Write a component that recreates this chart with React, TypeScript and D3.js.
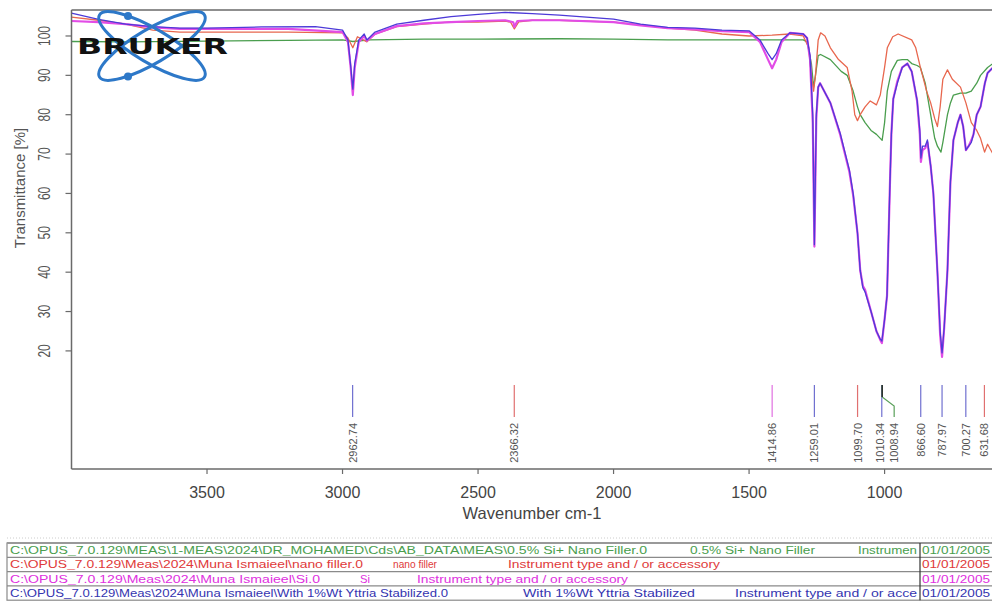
import React, { useEffect, useRef } from "react";
import * as d3 from "d3";

// axis setup
const wnDomain = [4000, 600];
const tDomain = [-10, 106.6];
const xTicks = [3500, 3000, 2500, 2000, 1500, 1000];
const yTicks = [20, 30, 40, 50, 60, 70, 80, 90, 100];

// spectra: [wavenumber, transmittance %]
const siNanoFiller: [number, number][] = [
  [4000, 98.6], [3800, 98.5], [3500, 98.7], [3200, 98.9], [3000, 99], [2962, 98.6],
  [2900, 99], [2700, 99.2], [2500, 99.2], [2200, 99.3], [2000, 99.2], [1800, 99],
  [1600, 99], [1450, 99], [1300, 99], [1286, 98.5], [1270, 93], [1262, 87],
  [1255, 90], [1245, 95], [1236, 95.3], [1200, 94], [1160, 91], [1138, 90],
  [1116, 86], [1100, 82], [1090, 80], [1072, 78], [1050, 76], [1030, 75],
  [1016, 74], [1009, 73.5], [1000, 78], [990, 86], [975, 91], [953, 93.8],
  [935, 94], [916, 94], [900, 93], [880, 92.5], [868, 92], [850, 88], [830, 80],
  [815, 74], [805, 72], [792, 70.5], [785, 73], [768, 80], [757, 83], [746, 85],
  [720, 85.5], [700, 85.5], [680, 86], [660, 88], [646, 90], [620, 92], [600, 93],
];

const nanoFiller: [number, number][] = [
  [4000, 104.8], [3900, 104], [3800, 103], [3700, 101.5], [3600, 101], [3400, 101],
  [3200, 101], [3000, 100.8], [2980, 99.5], [2962, 97], [2945, 99.8], [2910, 98.5],
  [2880, 100.5], [2800, 102.4], [2700, 103], [2600, 103.6], [2500, 103.5], [2400, 103.8],
  [2380, 103.5], [2366, 101.8], [2350, 103.6], [2300, 104], [2200, 104], [2000, 103.5],
  [1900, 102.8], [1800, 102], [1700, 101.5], [1600, 100.5], [1500, 100], [1415, 100.2],
  [1350, 100.5], [1300, 100], [1280, 97], [1270, 90], [1262, 86], [1255, 90],
  [1245, 99], [1236, 100.8], [1220, 100], [1200, 97], [1170, 94], [1138, 92],
  [1120, 86], [1110, 80], [1100, 78.5], [1090, 80], [1072, 82], [1053, 83.5],
  [1030, 82.5], [1016, 85], [1000, 92], [990, 97], [970, 99.8], [950, 100.5],
  [900, 99], [885, 97], [868, 92], [860, 90], [845, 86], [830, 83], [815, 79],
  [805, 77], [795, 82], [785, 89], [768, 91.4], [750, 89], [720, 87], [700, 83],
  [680, 78], [660, 76], [646, 74], [631, 70.5], [620, 72.5], [600, 70],
];

const si: [number, number][] = [
  [4000, 103.8], [3900, 103.5], [3800, 103], [3700, 102.2], [3600, 101.8], [3400, 101.8],
  [3200, 101.8], [3000, 101], [2980, 98.5], [2970, 92], [2962, 85], [2955, 92],
  [2940, 98.5], [2920, 100], [2910, 98.8], [2880, 100.5], [2800, 102.5], [2700, 103.2],
  [2600, 103.5], [2500, 103.8], [2400, 104], [2370, 103.5], [2366, 102.3], [2355, 103.8],
  [2300, 104], [2200, 104], [2000, 103.5], [1900, 102.7], [1800, 102], [1700, 101.7],
  [1600, 101.2], [1500, 101], [1460, 98.5], [1430, 94], [1415, 91.8], [1400, 94],
  [1380, 98.5], [1349, 100.8], [1300, 100.5], [1286, 99.5], [1275, 94], [1265, 78],
  [1259, 46.5], [1252, 79], [1245, 87], [1238, 88], [1200, 83], [1164, 75],
  [1130, 65.5], [1116, 59.5], [1100, 50], [1090, 40.5], [1080, 36.5], [1072, 35.5],
  [1050, 30], [1030, 25], [1016, 22.8], [1010, 22], [1000, 28], [991, 34],
  [980, 63], [975, 75], [968, 84], [953, 88.5], [935, 92], [916, 93], [900, 91],
  [880, 83.5], [870, 75], [866, 68], [860, 71], [850, 71.5], [842, 73], [830, 67],
  [820, 60], [805, 40], [795, 24], [788, 18.5], [780, 26], [768, 40.5], [757, 63],
  [746, 73.5], [730, 78], [720, 80], [710, 77], [700, 71], [690, 72], [680, 73.5],
  [672, 75], [660, 80], [646, 82], [630, 88], [620, 90.6], [600, 92],
];

const yttria: [number, number][] = [
  [4000, 105.8], [3900, 104.2], [3800, 103], [3700, 102.4], [3600, 102], [3500, 102],
  [3300, 102.3], [3100, 102.4], [3000, 101.5], [2980, 99], [2970, 92.5], [2962, 86.5],
  [2955, 93], [2940, 99], [2920, 100.5], [2910, 99], [2880, 101], [2800, 103],
  [2700, 104], [2600, 104.9], [2500, 105.5], [2400, 106], [2300, 105.7], [2200, 105.3],
  [2100, 104.8], [2000, 104.3], [1900, 103], [1800, 102.2], [1700, 102], [1600, 101.5],
  [1500, 101.3], [1460, 99], [1430, 95.5], [1415, 94], [1400, 95.5], [1380, 99],
  [1349, 100.8], [1300, 100.5], [1286, 99.5], [1275, 95], [1265, 80], [1259, 47],
  [1252, 80], [1245, 87], [1238, 88], [1200, 83], [1164, 75.3], [1130, 66],
  [1116, 60], [1100, 50], [1090, 40.5], [1080, 36], [1072, 35], [1050, 30],
  [1030, 25], [1016, 23], [1010, 22.5], [1000, 28], [991, 34], [980, 63], [975, 75],
  [968, 84], [953, 88], [935, 92], [916, 93], [900, 91], [880, 83.7], [870, 76],
  [866, 69], [860, 72], [850, 72], [842, 73.6], [830, 67], [820, 60], [805, 40],
  [795, 25], [788, 19.5], [780, 26], [768, 40.5], [757, 63], [746, 73.6], [730, 78],
  [720, 80], [710, 77], [700, 71], [690, 72], [680, 73], [672, 75], [660, 80],
  [646, 82], [630, 88], [620, 90.6], [600, 92],
];

// peak picks
const peakWn = [2962.74, 2366.32, 1414.86, 1259.01, 1099.7, 1010.34, 1008.94, 866.6, 787.97, 700.27, 631.68];
const peakOwner = ["yttria", "nano", "si", "yttria", "nano", "yttria", "green", "yttria", "yttria", "yttria", "nano"];

// legend rows (file path, sample name, instrument as far as it is visible)
const legendPaths = [
  "C:\\OPUS_7.0.129\\MEAS\\1-MEAS\\2024\\DR_MOHAMED\\Cds\\AB_DATA\\MEAS\\0.5% Si+ Nano Filler.0",
  "C:\\OPUS_7.0.129\\Meas\\2024\\Muna Ismaieel\\nano filler.0",
  "C:\\OPUS_7.0.129\\Meas\\2024\\Muna Ismaieel\\Si.0",
  "C:\\OPUS_7.0.129\\Meas\\2024\\Muna Ismaieel\\With 1%Wt Yttria Stabilized.0",
];
const legendNames = ["0.5% Si+ Nano Filler", "nano filler", "Si", "With 1%Wt Yttria Stabilized"];
const legendInstr = [
  "Instrumen",
  "Instrument type and / or accessory",
  "Instrument type and / or accessory",
  "Instrument type and / or acce",
];
const legendDates = ["01/01/2005", "01/01/2005", "01/01/2005", "01/01/2005"];

const FONT = "'Liberation Sans', Arial, sans-serif";

const App = () => {
  const svgRef = useRef<SVGSVGElement>(null);

  useEffect(() => {
    const svg = d3.select(svgRef.current);
    svg.selectAll("*").remove();

    const left = 71.5;
    const right = 993;
    const top = 10;
    const bottom = 469;

    const x = d3.scaleLinear().domain(wnDomain).range([left, right]);
    const y = d3.scaleLinear().domain(tDomain).range([bottom, top]);

    const colors = { green: "#4a9e4e", nano: "#e8674e", si: "#e24ce6", yttria: "#4d3ad8" };
    const markColors = { green: "#5aa05a", nano: "#e07070", si: "#e070e0", yttria: "#7070d0" };

    svg.append("rect").attr("width", 992).attr("height", 606).attr("fill", "#fff");

    const clip = svg.append("clipPath").attr("id", "plotclip");
    clip.append("rect").attr("x", left).attr("y", top).attr("width", right - left).attr("height", bottom - top);

    // spectra
    const line = d3
      .line<[number, number]>()
      .x((d) => x(d[0]))
      .y((d) => y(d[1]));

    const series = [
      { data: siNanoFiller, color: colors.green, w: 1.3 },
      { data: nanoFiller, color: colors.nano, w: 1.3 },
      { data: si, color: colors.si, w: 2.2 },
      { data: yttria, color: colors.yttria, w: 1.3 },
    ];

    const g = svg.append("g").attr("clip-path", "url(#plotclip)");
    series.forEach((s) => {
      g.append("path")
        .datum(s.data)
        .attr("d", line)
        .attr("fill", "none")
        .attr("stroke", s.color)
        .attr("stroke-width", s.w)
        .attr("stroke-linejoin", "round");
    });

    // frame
    const axisColor = "#6a6a6a";
    svg.append("line").attr("x1", left).attr("x2", right).attr("y1", top).attr("y2", top)
      .attr("stroke", axisColor).attr("stroke-width", 1.5);
    svg.append("line").attr("x1", left).attr("x2", left).attr("y1", top).attr("y2", bottom)
      .attr("stroke", axisColor).attr("stroke-width", 1.5);
    svg.append("line").attr("x1", left).attr("x2", right).attr("y1", bottom).attr("y2", bottom)
      .attr("stroke", axisColor).attr("stroke-width", 1.5);

    // y ticks
    yTicks.forEach((t) => {
      svg.append("line").attr("x1", left - 6).attr("x2", left).attr("y1", y(t)).attr("y2", y(t))
        .attr("stroke", axisColor).attr("stroke-width", 1.2);
      svg.append("text")
        .attr("transform", `translate(44, ${y(t)}) rotate(-90) scale(1, 1.35)`)
        .attr("text-anchor", "middle")
        .attr("dominant-baseline", "central")
        .attr("font-family", FONT)
        .attr("font-size", 12)
        .attr("fill", "#555")
        .text(t);
    });

    svg.append("text")
      .attr("transform", `translate(19, 188) rotate(-90)`)
      .attr("text-anchor", "middle")
      .attr("dominant-baseline", "central")
      .attr("font-family", FONT)
      .attr("font-size", 15)
      .attr("fill", "#555")
      .text("Transmittance [%]");

    // x ticks
    xTicks.forEach((t) => {
      svg.append("line").attr("x1", x(t)).attr("x2", x(t)).attr("y1", bottom).attr("y2", bottom + 5)
        .attr("stroke", axisColor).attr("stroke-width", 1.2);
      svg.append("text")
        .attr("x", x(t))
        .attr("y", 498)
        .attr("text-anchor", "middle")
        .attr("font-family", FONT)
        .attr("font-size", 16)
        .attr("fill", "#444")
        .text(t);
    });

    svg.append("text")
      .attr("x", 532)
      .attr("y", 519)
      .attr("text-anchor", "middle")
      .attr("font-family", FONT)
      .attr("font-size", 16.5)
      .attr("fill", "#444")
      .text("Wavenumber cm-1");

    // peak markers
    const mTop = bottom - 84;
    const mBot = bottom - 52;
    const labelTop = bottom - 46;
    peakWn.forEach((p, i) => {
      const owner = peakOwner[i];
      const px = x(p);
      let lx = px;
      if (owner === "green") {
        lx = px + 12;
        svg.append("path")
          .attr("d", `M${px},${mTop}V${mTop + 12}L${lx},${mTop + 21}V${mBot}`)
          .attr("fill", "none")
          .attr("stroke", markColors.green)
          .attr("stroke-width", 1.2);
        svg.append("line").attr("x1", px).attr("x2", px).attr("y1", mTop).attr("y2", mTop + 12)
          .attr("stroke", "#222").attr("stroke-width", 1.4);
      } else {
        if (p === 1010.34) lx = px - 2;
        svg.append("line").attr("x1", px).attr("x2", px).attr("y1", mTop).attr("y2", mBot)
          .attr("stroke", markColors[owner]).attr("stroke-width", 1.2);
      }
      svg.append("text")
        .attr("transform", `translate(${lx}, ${labelTop}) rotate(-90)`)
        .attr("text-anchor", "end")
        .attr("dominant-baseline", "central")
        .attr("font-family", FONT)
        .attr("font-size", 11)
        .attr("fill", "#555")
        .text(p.toFixed(2));
    });

    // bruker logo
    const logo = svg.append("g");
    const logoBlue = "#2d78c8";
    logo.append("ellipse").attr("cx", 152).attr("cy", 46).attr("rx", 61).attr("ry", 17)
      .attr("transform", "rotate(30.6 152 46)").attr("fill", "none").attr("stroke", logoBlue).attr("stroke-width", 3);
    logo.append("ellipse").attr("cx", 152).attr("cy", 46).attr("rx", 61).attr("ry", 17)
      .attr("transform", "rotate(-30.6 152 46)").attr("fill", "none").attr("stroke", logoBlue).attr("stroke-width", 3);
    logo.append("circle").attr("cx", 128).attr("cy", 16).attr("r", 4).attr("fill", logoBlue);
    logo.append("circle").attr("cx", 128).attr("cy", 76.5).attr("r", 4).attr("fill", logoBlue);
    logo.append("text")
      .attr("x", 77)
      .attr("y", 54)
      .attr("textLength", 151)
      .attr("lengthAdjust", "spacingAndGlyphs")
      .attr("font-family", "'DejaVu Sans', Arial, sans-serif")
      .attr("font-weight", 900)
      .attr("font-size", 21)
      .attr("fill", "#111")
      .text("BRUKER");

    // legend table
    const tLeft = 7;
    const tTop = 543;
    const rowH = 14.3;
    const dateX = 920;
    const legendColors = [colors.green, "#e03a3a", "#e030e0", "#3535b0"];
    const pathEnds = [647, 363, 320, 448];
    const nameSpans = [[690, 815], [393, 437], [360, 370], [523, 695]];
    const instrSpans = [[858, 917], [508, 720], [417, 628], [735, 917]];

    svg.append("line").attr("x1", tLeft).attr("x2", 992).attr("y1", tTop - 5).attr("y2", tTop - 5)
      .attr("stroke", "#ccc").attr("stroke-dasharray", "1,2");

    svg.append("rect").attr("x", tLeft).attr("y", tTop).attr("width", 992 - tLeft + 2).attr("height", rowH * 4)
      .attr("fill", "#fff").attr("stroke", "#8a8a8a").attr("stroke-width", 1.2);
    svg.append("line").attr("x1", tLeft).attr("x2", 992).attr("y1", tTop).attr("y2", tTop)
      .attr("stroke", "#999").attr("stroke-width", 2.2);
    for (let r = 1; r < 4; r++) {
      svg.append("line").attr("x1", tLeft).attr("x2", 992).attr("y1", tTop + r * rowH).attr("y2", tTop + r * rowH)
        .attr("stroke", "#8a8a8a").attr("stroke-width", 1.2);
    }
    svg.append("line").attr("x1", dateX).attr("x2", dateX).attr("y1", tTop).attr("y2", tTop + rowH * 4)
      .attr("stroke", "#333").attr("stroke-width", 1.2);

    legendPaths.forEach((p, i) => {
      const by = tTop + i * rowH + rowH / 2 + 3.8;
      const c = legendColors[i];
      const base = (el) => el.attr("y", by).attr("font-family", FONT).attr("font-size", 11).attr("fill", c)
        .attr("lengthAdjust", "spacingAndGlyphs");
      base(svg.append("text")).attr("x", 10).attr("textLength", pathEnds[i] - 10).text(p);
      base(svg.append("text")).attr("x", nameSpans[i][0]).attr("textLength", nameSpans[i][1] - nameSpans[i][0]).text(legendNames[i]);
      base(svg.append("text")).attr("x", instrSpans[i][0]).attr("textLength", instrSpans[i][1] - instrSpans[i][0]).text(legendInstr[i]);
      base(svg.append("text")).attr("x", 922).attr("textLength", 68).text(legendDates[i]);
    });
  }, []);

  return (
    <svg
      ref={svgRef}
      width={992}
      height={606}
      style={{ position: "absolute", left: 0, top: 0 }}
    />
  );
};

export default App;
